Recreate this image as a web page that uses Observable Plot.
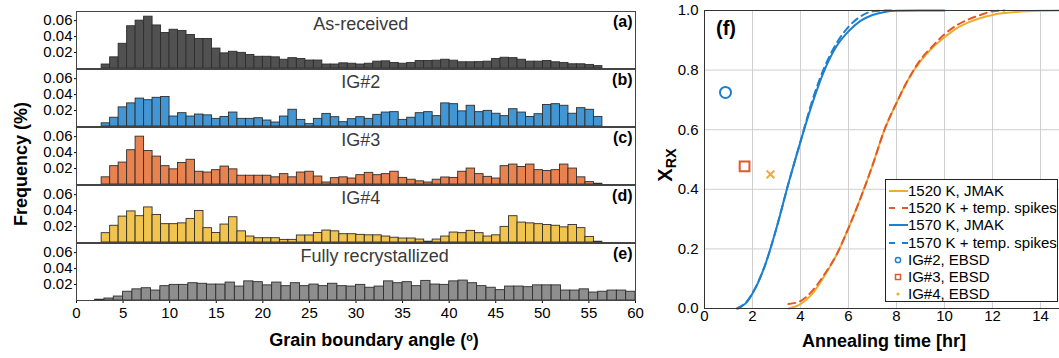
<!DOCTYPE html>
<html><head><meta charset="utf-8">
<script src="https://cdn.jsdelivr.net/npm/d3@7"></script>
<script src="https://cdn.jsdelivr.net/npm/@observablehq/plot@0.6"></script>
<style>
body{margin:0;background:#fff;overflow:hidden}
#root{position:relative;width:1059px;height:358px;overflow:hidden;font-family:"Liberation Sans",Arial,sans-serif;color:#000}
#root svg{position:absolute;top:0}
.lab{position:absolute;font-weight:bold;white-space:nowrap;line-height:1}
#legend{position:absolute;left:885px;top:179px;width:173px;height:123px;border:1px solid #222;background:#fff;box-sizing:border-box;font-size:15px}
#legend .row{position:absolute;left:0;height:17px;line-height:17px;white-space:nowrap}
#legend svg{position:absolute;left:2px;top:3px}
#legend span{position:absolute;left:22px}
</style></head><body><div id="root"></div>
<script>
// ---------- data: histograms ----------
const panels = ["As-received","IG#2","IG#3","IG#4","Fully recrystallized"];
const panelTags = ["(a)","(b)","(c)","(d)","(e)"];
const panelColors = ["#515151","#4196d3","#e8824f","#f1c34f","#8e8e8e"];
const titleX = [30.5, 30.5, 30.5, 30.5, 32];
const binStart = [2.7, 2.7, 2.7, 2.7, 2];
const binWidth = [0.911, 0.911, 0.911, 0.911, 1];

const asReceived = [0.005,0.014,0.031,0.053,0.060,0.065,0.054,0.0445,0.0486,0.047,0.042,0.037,0.037,0.025,0.019,0.021,0.0196,0.017,0.0147,0.0147,0.014,0.011,0.013,0.012,0.010,0.010,0.005,0.005,
  0.0065,0.006,0.005,0.006,0.0086,0.009,0.007,0.006,0.007,0.0094,0.0094,0.0098,0.011,0.0098,0.0078,0.0078,0.008,0.0086,0.012,0.0135,0.013,0.011,0.0086,0.0086,0.0094,0.0078,0.007,0.0053,0.0053,0.0045,0.003];
const ig2 = [0.004,0.011,0.024,0.029,0.035,0.033,0.036,0.037,0.0125,0.0167,0.0125,0.015,0.014,0.0096,0.012,0.0175,0.0096,0.0096,0.0104,0.0075,0.005,0.0125,0.021,0.0083,0.003,0.0096,0.0158,0.0117,
  0.0054,0.0092,0.0117,0.0096,0.0146,0.0175,0.018,0.0083,0.011,0.0167,0.018,0.013,0.029,0.028,0.019,0.026,0.018,0.0196,0.016,0.013,0.0217,0.0175,0.012,0.0154,0.027,0.028,0.026,0.016,0.023,0.021,0.012];
const ig3 = [0.009,0.023,0.0275,0.043,0.060,0.042,0.035,0.023,0.019,0.027,0.031,0.016,0.015,0.018,0.0225,0.019,0.011,0.011,0.011,0.011,0.009,0.013,0.009,0.015,0.016,0.010,0.0025,0.008,
  0.009,0.0075,0.0117,0.0146,0.0117,0.013,0.016,0.0083,0.006,0.004,0.0025,0.006,0.0088,0.0083,0.016,0.02,0.013,0.0096,0.0075,0.023,0.025,0.022,0.025,0.018,0.017,0.018,0.025,0.02,0.009,0.003,0.001];
const ig4 = [0.0117,0.021,0.0325,0.039,0.033,0.044,0.0346,0.023,0.023,0.024,0.0296,0.0396,0.018,0.012,0.0225,0.0317,0.014,0.0075,0.0054,0.0054,0.0054,0.0033,0.0033,0.0088,0.0088,0.012,0.015,0.014,
  0.0104,0.0104,0.0096,0.009,0.009,0.0075,0.006,0.005,0.005,0.0037,0.001,0.0037,0.0075,0.0125,0.0117,0.0146,0.0117,0.0075,0.009,0.0196,0.033,0.025,0.024,0.023,0.022,0.021,0.019,0.022,0.018,0.007,0.001];
const fullyRx = [0.001,0.0025,0.005,0.011,0.014,0.0154,0.0125,0.018,0.0196,0.0196,0.0217,0.021,0.02,0.02,0.0225,0.0175,0.024,0.023,0.019,0.0225,0.018,0.0217,0.018,0.02,0.018,0.021,
  0.018,0.0175,0.0196,0.016,0.0175,0.024,0.0217,0.023,0.018,0.0246,0.02,0.0196,0.024,0.025,0.0217,0.018,0.016,0.013,0.0175,0.0175,0.0167,0.019,0.019,0.019,0.0125,0.0125,0.014,0.01,0.011,0.0125,0.0125,0.011];
const panelValues = [asReceived, ig2, ig3, ig4, fullyRx];
const freqTicks = [0.02, 0.04, 0.06];
const angleTicks = [0,5,10,15,20,25,30,35,40,45,50,55,60];

// ---------- data: recrystallization curves ----------
const jmak1520T = [3.5,4.0,4.5,5.0,5.5,6.0,6.5,7.0,7.5,8.0,8.5,9.0,9.5,10,10.5,11,11.5,12,13,14,15];
const jmak1520X = [0,0.015,0.05,0.11,0.18,0.27,0.37,0.48,0.60,0.69,0.77,0.83,0.875,0.91,0.94,0.96,0.975,0.985,0.995,0.999,1.0];
const spike1520T = [3.5,4.0,4.5,5.0,5.5,6.0,6.5,7.0,7.5,8.0,8.5,9.0,9.5,10,10.5,11,11.5,12,12.5];
const spike1520X = [0.015,0.025,0.06,0.115,0.18,0.27,0.37,0.48,0.60,0.69,0.77,0.835,0.88,0.92,0.95,0.97,0.985,0.997,1.0];
const jmak1570T = [1.4,1.6,1.8,2.0,2.5,3.0,3.5,4.0,4.5,5.0,5.5,6.0,6.5,7.0,7.5,8.0,9.0,10.0];
const jmak1570X = [0,0.01,0.025,0.05,0.14,0.27,0.42,0.56,0.69,0.80,0.88,0.93,0.965,0.985,0.995,0.999,1.0,1.0];
const spike1570T = [1.35,1.6,1.8,2.0,2.5,3.0,3.5,4.0,4.5,5.0,5.5,6.0,6.5,7.0,7.5,8.0];
const spike1570X = [0,0.012,0.027,0.052,0.14,0.27,0.42,0.56,0.70,0.81,0.89,0.945,0.98,0.997,1.0,1.0];
const ebsdNames = ["IG#2, EBSD","IG#3, EBSD","IG#4, EBSD"];
const ebsdT = [0.875, 1.67, 2.75];
const ebsdX = [0.725, 0.477, 0.45];
const ebsdSymbols = ["circle","square","times"];
const ebsdSizes = [5.5, 5.5, 3.6];
const seriesColors = {b:"#1d7fcf", r:"#e2582a", y:"#f0ad2c"};
const timeTicks = [0,2,4,6,8,10,12,14];
const xrxTicks = [0,0.2,0.4,0.6,0.8,1];

const root = document.getElementById("root");
const FONT = '"Liberation Sans", Arial, sans-serif';

// ---------- left: histograms ----------
const bars = [];
panelValues.forEach((vals, p) => {
  vals.forEach((v, i) => bars.push({panel: panels[p], x1: binStart[p] + i*binWidth[p], x2: binStart[p] + (i+1)*binWidth[p], y: v}));
});
const titles = panels.map((p, i) => ({panel: p, x: titleX[i], text: p}));
const tags = panels.map((p, i) => ({panel: p, text: panelTags[i]}));

const left = Plot.plot({
  width: 650, height: 358,
  marginLeft: 76, marginRight: 15, marginTop: 10, marginBottom: 57,
  style: {fontFamily: FONT, fontSize: "15px", color: "#000", background: "transparent", overflow: "visible"},
  x: {domain: [0, 60], ticks: angleTicks, tickSize: 3, tickPadding: 4, label: null},
  y: {domain: [0, 0.0715], ticks: freqTicks, tickFormat: d => d.toFixed(2), tickSize: 2, tickPadding: 2, label: null},
  fy: {domain: panels, axis: null, padding: 0.012},
  color: {domain: panels, range: panelColors},
  marks: [
    Plot.rectY(bars, {x1: "x1", x2: "x2", y: "y", fy: "panel", fill: "panel", stroke: "#2e2e2e", strokeWidth: 0.9}),
    Plot.text(titles, {x: "x", fy: "panel", text: "text", frameAnchor: "top", dy: 6, fontSize: 18, fill: "#3a3a3a"}),
    Plot.text(tags, {fy: "panel", text: "text", frameAnchor: "top-right", dx: -3, dy: 4, fontSize: 16, fontWeight: "bold", textAnchor: "end"}),
    Plot.frame({stroke: "#444", strokeWidth: 1})
  ]
});
left.style.left = "0px";
root.appendChild(left);

// ---------- right: XRX vs time ----------
const mk = (T, X, s) => T.map((t, i) => ({t, x: X[i], s}));
const lines = [
  ...mk(jmak1520T, jmak1520X, "1520 K, JMAK"),
  ...mk(spike1520T, spike1520X, "1520 K + temp. spikes"),
  ...mk(jmak1570T, jmak1570X, "1570 K, JMAK"),
  ...mk(spike1570T, spike1570X, "1570 K + temp. spikes")
];
const ebsd = ebsdNames.map((n, i) => ({n, t: ebsdT[i], x: ebsdX[i], sym: ebsdSymbols[i], r: ebsdSizes[i]}));
const ebsdColors = [seriesColors.b, seriesColors.r, seriesColors.y];

const right = Plot.plot({
  width: 425, height: 358,
  marginLeft: 64, marginRight: 1, marginTop: 10, marginBottom: 50,
  style: {fontFamily: FONT, fontSize: "15px", color: "#000", background: "transparent", overflow: "visible"},
  x: {domain: [0, 15], ticks: timeTicks, tickSize: 0, tickPadding: 2, label: null},
  y: {domain: [0, 1], ticks: xrxTicks, tickSize: 0, tickPadding: 6, label: null},
  r: {type: "identity"},
  marks: [
    Plot.gridX(timeTicks, {stroke: "#cfcfcf", strokeOpacity: 1}),
    Plot.gridY(xrxTicks, {stroke: "#cfcfcf", strokeOpacity: 1}),
    Plot.line(lines.filter(d => d.s === "1570 K, JMAK"), {x: "t", y: "x", stroke: seriesColors.b, strokeWidth: 2, curve: "monotone-x"}),
    Plot.line(lines.filter(d => d.s === "1570 K + temp. spikes"), {x: "t", y: "x", stroke: seriesColors.b, strokeWidth: 2, strokeDasharray: "7,5", curve: "monotone-x"}),
    Plot.line(lines.filter(d => d.s === "1520 K, JMAK"), {x: "t", y: "x", stroke: seriesColors.y, strokeWidth: 2, curve: "monotone-x"}),
    Plot.line(lines.filter(d => d.s === "1520 K + temp. spikes"), {x: "t", y: "x", stroke: seriesColors.r, strokeWidth: 2, strokeDasharray: "7,5", curve: "monotone-x"}),
    Plot.dot(ebsd, {x: "t", y: "x", symbol: "sym", r: "r", stroke: (d, i) => ebsdColors[i], fill: "none", strokeWidth: 2}),
    Plot.frame({stroke: "#333", strokeWidth: 1})
  ]
});
right.style.left = "640px";
root.appendChild(right);

// ---------- text labels ----------
function label(html, x, y, size, rotate) {
  const d = document.createElement("div");
  d.className = "lab";
  d.innerHTML = html;
  d.style.fontSize = size + "px";
  d.style.left = x + "px"; d.style.top = y + "px";
  d.style.transform = "translate(-50%,-50%)" + (rotate ? " rotate(-90deg)" : "");
  root.appendChild(d);
  return d;
}
label('Grain boundary angle (<sup style="font-size:0.6em;vertical-align:0.45em">o</sup>)', 374, 340, 18);
label('Frequency (%)', 21, 164, 18, true);
label('Annealing time [hr]', 884, 341, 18);
label('X<sub style="font-size:0.72em;vertical-align:-0.3em">RX</sub>', 667, 165, 20, true);
label('(f)', 726, 28, 20);

// ---------- legend ----------
const legend = document.createElement("div");
legend.id = "legend";
const legendItems = [
  {label: "1520 K, JMAK", type: "line", color: seriesColors.y},
  {label: "1520 K + temp. spikes", type: "dash", color: seriesColors.r},
  {label: "1570 K, JMAK", type: "line", color: seriesColors.b},
  {label: "1570 K + temp. spikes", type: "dash", color: seriesColors.b},
  {label: ebsdNames[0], type: "circle", color: seriesColors.b},
  {label: ebsdNames[1], type: "square", color: seriesColors.r},
  {label: ebsdNames[2], type: "dotpt", color: seriesColors.y}
];
legendItems.forEach((it, i) => {
  const row = document.createElement("div");
  row.className = "row";
  row.style.top = (2 + i * 17.2) + "px";
  let g = "";
  if (it.type === "line") g = `<line x1="1" x2="20" y1="6" y2="6" stroke="${it.color}" stroke-width="2"/>`;
  else if (it.type === "dash") g = `<line x1="1" x2="20" y1="6" y2="6" stroke="${it.color}" stroke-width="2" stroke-dasharray="6,7"/>`;
  else if (it.type === "circle") g = `<circle cx="10" cy="6" r="2.6" fill="none" stroke="${it.color}" stroke-width="1.5"/>`;
  else if (it.type === "square") g = `<rect x="7.5" y="3.5" width="5" height="5" fill="none" stroke="${it.color}" stroke-width="1.5"/>`;
  else g = `<circle cx="10" cy="6" r="1.6" fill="${it.color}"/>`;
  row.innerHTML = `<svg width="22" height="12">${g}</svg><span>${it.label}</span>`;
  legend.appendChild(row);
});
root.appendChild(legend);
</script>
</body></html>
